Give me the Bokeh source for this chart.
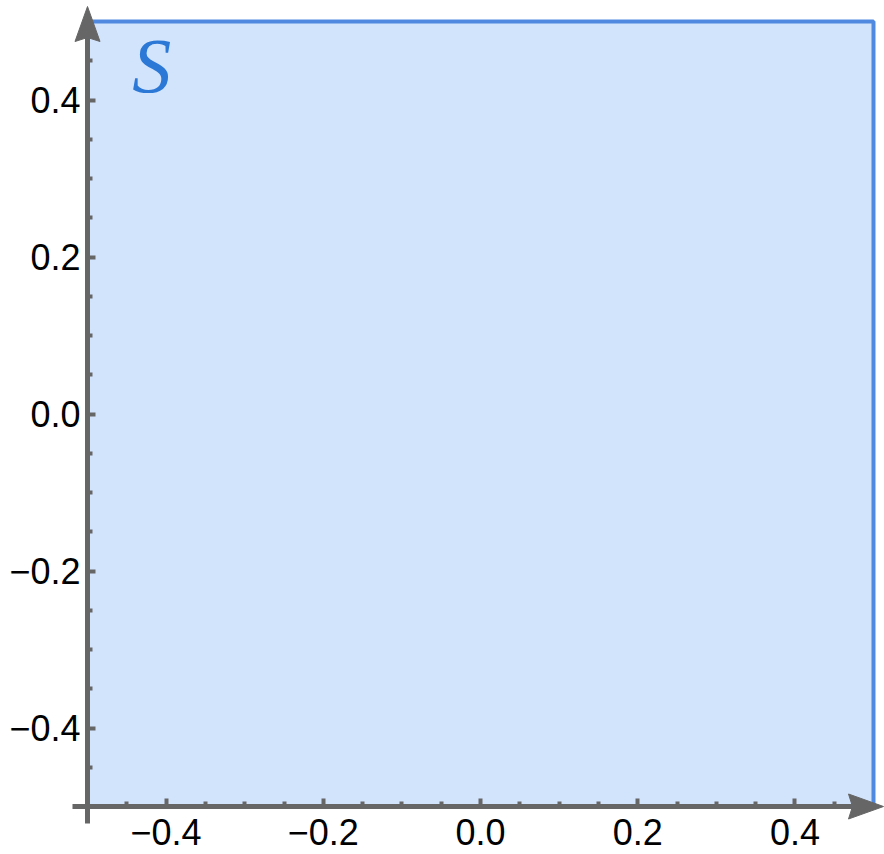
from bokeh.plotting import figure
from bokeh.models import LinearAxis, FixedTicker, Range1d, Label
from bokeh.embed import file_html
from bokeh.resources import INLINE

# ---- data ----
REGION_X = [-0.5, 0.5]
REGION_Y = [-0.5, 0.5]
MAJOR_TICKS = [-0.4, -0.2, 0.0, 0.2, 0.4]
TICK_LABELS = ["\u22120.4", "\u22120.2", "0.0", "0.2", "0.4"]
MINOR_TICKS = [-0.45, -0.35, -0.3, -0.25, -0.15, -0.1, -0.05,
               0.05, 0.1, 0.15, 0.25, 0.3, 0.35, 0.45]
REGION_NAME = "S"

# ---- layout (pixels) ----
W, H = 884, 854
LEFT_PX, RIGHT_PX = 87, 873      # canvas x of REGION_X[0], REGION_X[1]
TOP_PX, BOTTOM_PX = 21, 806      # canvas y of REGION_Y[1], REGION_Y[0]
sx = (RIGHT_PX - LEFT_PX) / (REGION_X[1] - REGION_X[0])
sy = (BOTTOM_PX - TOP_PX) / (REGION_Y[1] - REGION_Y[0])

x0 = REGION_X[0] - LEFT_PX / sx
x1 = REGION_X[1] + (W - RIGHT_PX) / sx
y1 = REGION_Y[1] + TOP_PX / sy
y0 = REGION_Y[0] - (H - BOTTOM_PX) / sy

AXIS_COLOR = "#666666"

p = figure(width=W, height=H, output_backend="svg", toolbar_location=None,
           x_range=Range1d(x0, x1), y_range=Range1d(y0, y1),
           x_axis_type=None, y_axis_type=None,
           min_border=0, min_border_left=0, min_border_right=0,
           min_border_top=0, min_border_bottom=0)
p.outline_line_color = None
p.grid.visible = False
p.background_fill_color = "white"
p.border_fill_color = "white"

# region
p.quad(left=[REGION_X[0]], right=[REGION_X[1]], bottom=[REGION_Y[0]], top=[REGION_Y[1]],
       fill_color="#D2E3FC", line_color="#4F89E0", line_width=4)

# arrowheads
L_PX, HW_PX, N_PX = 35, 12.5, 4
TIP_Y_PX, TIP_X_PX = 6, 883
ax = REGION_X[0]
yt = REGION_Y[1] + (TOP_PX - TIP_Y_PX) / sy
ya_xs = [ax, ax + HW_PX / sx, ax, ax - HW_PX / sx]
ya_ys = [yt, yt - L_PX / sy, yt - (L_PX - N_PX) / sy, yt - L_PX / sy]
ay = REGION_Y[0]
xt = REGION_X[1] + (TIP_X_PX - RIGHT_PX) / sx
xa_xs = [xt, xt - L_PX / sx, xt - (L_PX - N_PX) / sx, xt - L_PX / sx]
xa_ys = [ay, ay + HW_PX / sy, ay, ay - HW_PX / sy]
p.patches(xs=[ya_xs, xa_xs], ys=[ya_ys, xa_ys], fill_color=AXIS_COLOR,
          line_color=AXIS_COLOR, line_width=1)

def style_axis(axis):
    axis.axis_line_color = AXIS_COLOR
    axis.axis_line_width = 5
    axis.major_tick_line_color = AXIS_COLOR
    axis.major_tick_line_width = 4
    axis.minor_tick_line_color = AXIS_COLOR
    axis.minor_tick_line_width = 4
    axis.major_tick_in = 8
    axis.major_tick_out = 0
    axis.minor_tick_in = 5
    axis.minor_tick_out = 0
    axis.major_label_text_font = "Liberation Sans"
    axis.major_label_text_font_size = "36px"
    axis.major_label_text_color = "black"
    axis.major_label_overrides = {t: lab for t, lab in zip(MAJOR_TICKS, TICK_LABELS)}
    axis.ticker = FixedTicker(ticks=MAJOR_TICKS, minor_ticks=MINOR_TICKS)

xaxis = LinearAxis(fixed_location=REGION_Y[0],
                   bounds=(REGION_X[0] - 15 / sx, xt - (L_PX - N_PX) / sx))
style_axis(xaxis)
xaxis.major_label_standoff = 12
p.add_layout(xaxis, "below")

yaxis = LinearAxis(fixed_location=REGION_X[0],
                   bounds=(REGION_Y[0] - 17 / sy, yt - (L_PX - N_PX) / sy))
style_axis(yaxis)
yaxis.major_label_standoff = 7
p.add_layout(yaxis, "left")

lab = Label(x=-0.443, y=0.444, text=REGION_NAME,
            text_font="Liberation Serif",
            text_font_style="italic", text_font_size="78px", text_color="#2B78D6",
            text_baseline="alphabetic", text_align="left")
p.add_layout(lab)

open("out.html", "w").write(file_html(p, INLINE))
